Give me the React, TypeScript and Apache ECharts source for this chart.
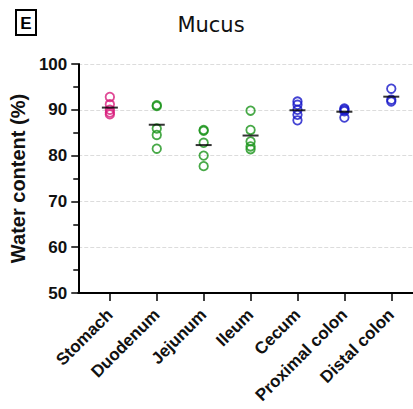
import React, { useEffect, useRef } from "react";
import * as echarts from "echarts";

const categories = ["Stomach", "Duodenum", "Jejunum", "Ileum", "Cecum", "Proximal colon", "Distal colon"];
const groupColors = ["#d81b7b", "#1a941a", "#1a941a", "#1a941a", "#1515c8", "#1515c8", "#1515c8"];
const stomach = [92.8, 91.2, 90.0, 89.4, 89.0];
const duodenum = [91.0, 90.8, 85.9, 84.5, 81.5];
const jejunum = [85.6, 85.4, 82.8, 80.0, 77.7];
const ileum = [89.8, 85.6, 83.1, 82.0, 81.4];
const cecum = [91.8, 91.1, 90.0, 88.9, 87.7];
const proximalColon = [90.3, 90.0, 89.7, 88.3];
const distalColon = [94.6, 92.2, 91.8];
const groups = [stomach, duodenum, jejunum, ileum, cecum, proximalColon, distalColon];
const yTicks = [50, 60, 70, 80, 90, 100];

export default function App() {
  const ref = useRef<HTMLDivElement>(null);
  useEffect(() => {
    if (!ref.current) return;
    const chart = echarts.init(ref.current, null, { renderer: "svg" });
    const positions = categories.map((_, i) => i + 1);
    const pointSeries = groups.map((vals, i) => ({
      type: "scatter",
      data: vals.map((v) => [i + 1, v]),
      symbol: "circle",
      symbolSize: 8.5,
      itemStyle: { color: "rgba(255,255,255,0)", borderColor: groupColors[i], borderWidth: 1.8 },
      z: 3,
    }));
    const means = groups.map((vals, i) => [i + 1, vals.reduce((a, b) => a + b, 0) / vals.length]);
    chart.setOption({
      animation: false,
      title: {
        text: "Mucus",
        left: 206,
        top: 9,
        textAlign: "center",
        textStyle: { fontFamily: "DejaVu Sans", fontSize: 21, fontWeight: "normal", color: "#111" },
      },
      graphic: [
        { type: "rect", shape: { x: 16, y: 10, width: 20, height: 25 }, style: { fill: "#fff", stroke: "#000", lineWidth: 2 } },
        { type: "text", x: 26, y: 23, style: { text: "E", fontFamily: "Liberation Sans", fontWeight: "bold", fontSize: 17, fill: "#000", align: "center", verticalAlign: "middle" } },
      ],
      grid: { left: 74, right: 0, top: 64, bottom: 116 },
      xAxis: {
        type: "value",
        min: 1 - 32 / 47.5,
        max: 1 - 32 / 47.5 + 339 / 47.5,
        splitLine: { show: false },
        axisLine: { show: true, onZero: false, lineStyle: { color: "#000", width: 2 } },
        axisTick: { show: true, customValues: positions, length: 8, lineStyle: { color: "#000", width: 1.5 } },
        axisLabel: {
          show: true,
          customValues: positions,
          rotate: 45,
          margin: 19,
          formatter: (v: number) => categories[Math.round(v) - 1] ?? "",
          fontFamily: "Liberation Sans",
          fontWeight: "bold",
          fontSize: 17,
          color: "#111",
        },
      },
      yAxis: {
        type: "value",
        min: yTicks[0],
        max: yTicks[yTicks.length - 1],
        interval: 10,
        name: "Water content (%)",
        nameLocation: "middle",
        nameGap: 49,
        nameTextStyle: { fontFamily: "Liberation Sans", fontWeight: "bold", fontSize: 20, color: "#111" },
        axisLine: { show: true, lineStyle: { color: "#000", width: 2 } },
        axisTick: { show: true, length: 7, lineStyle: { color: "#000", width: 1.5 } },
        minorTick: { show: true, splitNumber: 2, length: 5, lineStyle: { color: "#000", width: 1.5 } },
        axisLabel: { fontFamily: "Liberation Sans", fontWeight: "bold", fontSize: 17, color: "#111", margin: 11 },
        splitLine: { show: true, lineStyle: { color: "#dcdcdc", type: "dashed", width: 1 } },
      },
      series: [
        ...pointSeries,
        {
          type: "scatter",
          data: means,
          symbol: "rect",
          symbolSize: [16, 2],
          itemStyle: { color: "#000" },
          z: 4,
        },
      ],
    });
    return () => chart.dispose();
  }, []);
  return <div ref={ref} style={{ width: 413, height: 409, position: "absolute", left: 0, top: 0, background: "#fff" }} />;
}
